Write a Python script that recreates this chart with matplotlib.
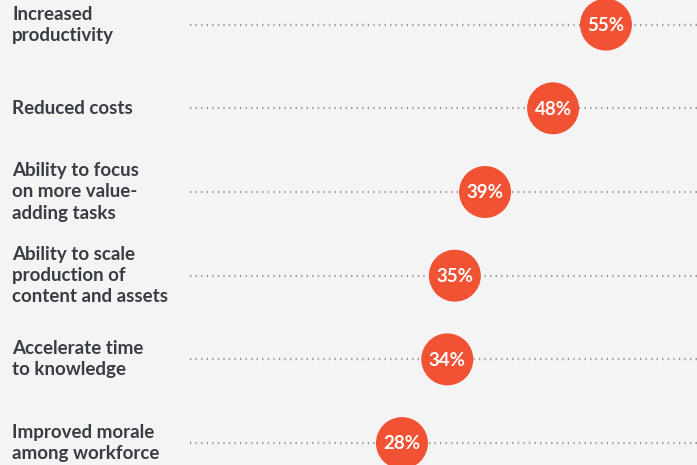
import matplotlib.pyplot as plt
from matplotlib.transforms import blended_transform_factory

# benefits of generative AI, share of respondents
benefits = [
	"Increased\nproductivity",
	"Reduced costs",
	"Ability to focus\non more value-\nadding tasks",
	"Ability to scale\nproduction of\ncontent and assets",
	"Accelerate time\nto knowledge",
	"Improved morale\namong workforce",
]
shares = [55, 48, 39, 35, 34, 28]

BG = "#f4f4f4"
DOT = "#f05233"
TXT = "#383d45"

fig = plt.figure(figsize=(6.97, 4.65), dpi=100, facecolor=BG)
ax = fig.add_axes([0, 0, 1, 1])
ax.set_facecolor(BG)

rows = list(range(len(benefits)))

ax.hlines(rows, 0, 80, colors="#999999", linestyles=(0, (0.6, 1.9)), linewidth=1.6, zorder=1)
ax.scatter(shares, rows, s=1400, color=DOT, edgecolors="none", zorder=3, clip_on=False)

for r, v in zip(rows, shares):
	ax.text(v, r + 0.01, f"{v}%", color="white", fontsize=13.5, fontweight="bold",
		family="Lato", ha="center", va="center", zorder=4)

trans = blended_transform_factory(ax.transAxes, ax.transData)
for r, lab in zip(rows, benefits):
	ax.text(12 / 697, r, lab, transform=trans, color=TXT, fontsize=13.5,
		fontweight="bold", family="Lato", ha="left", va="center", linespacing=1.3)

ax.set_xlim(-25.2, 67.05)
ax.set_ylim(5.262, -0.294)
ax.axis("off")

plt.savefig("out.png", dpi=100, facecolor=BG)
